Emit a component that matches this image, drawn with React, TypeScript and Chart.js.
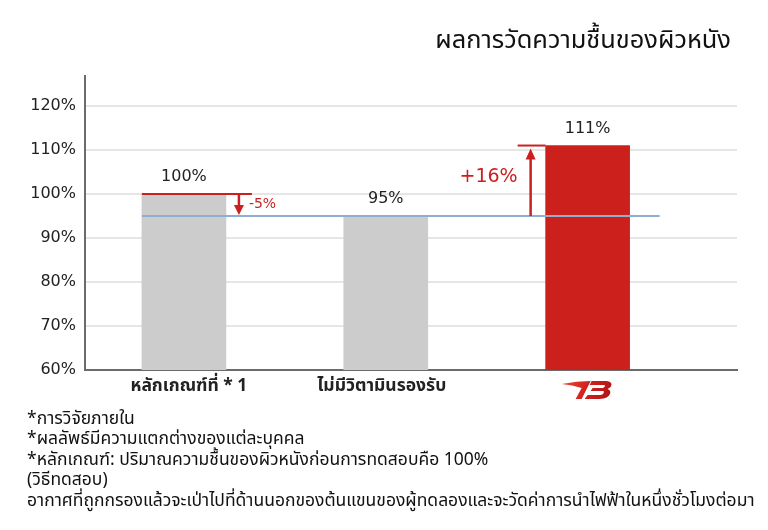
import React, { useEffect, useRef } from "react";
import { Chart, registerables } from "chart.js";

Chart.register(...registerables);

const title = "ผลการวัดความชื้นของผิวหนัง";
const categories = ["หลักเกณฑ์ที่ * 1", "ไม่มีวิตามินรองรับ", "LOGO"];
const positions = [1, 2, 3];
const values = [100, 95, 111];
const baseline = 95;
const diffLabels = ["-5%", "", "+16%"];
const barColors = ["#cccccc", "#cccccc", "#cc201d"];
const footnotes = [
  "*การวิจัยภายใน",
  "*ผลลัพธ์มีความแตกต่างของแต่ละบุคคล",
  "*หลักเกณฑ์: ปริมาณความชื้นของผิวหนังก่อนการทดสอบคือ 100%",
  "(วิธีทดสอบ)",
  "อากาศที่ถูกกรองแล้วจะเป่าไปที่ด้านนอกของต้นแขนของผู้ทดลองและจะวัดค่าการนำไฟฟ้าในหนึ่งชั่วโมงต่อมา",
];

const RED = "#cc1f1f";
const THAI = "'Noto Sans', 'Noto Sans Thai', Tahoma, sans-serif";

function drawLogo(ctx: CanvasRenderingContext2D, cx: number, top: number) {
  ctx.save();
  const g = ctx.createLinearGradient(cx - 25, top, cx + 25, top + 19);
  g.addColorStop(0, "#f04a3a");
  g.addColorStop(0.5, "#d0201d");
  g.addColorStop(1, "#b01515");
  ctx.fillStyle = g;
  // left swoosh
  ctx.beginPath();
  ctx.moveTo(cx - 25, top + 4);
  ctx.quadraticCurveTo(cx - 10, top + 1, cx + 4, top + 1);
  ctx.lineTo(cx + 1, top + 7);
  ctx.lineTo(cx - 5, top + 19);
  ctx.lineTo(cx - 11, top + 19);
  ctx.lineTo(cx - 5, top + 8);
  ctx.quadraticCurveTo(cx - 14, top + 5, cx - 25, top + 4);
  ctx.closePath();
  ctx.fill();
  // right "B"
  ctx.beginPath();
  ctx.moveTo(cx + 5, top + 1);
  ctx.lineTo(cx + 20, top + 1);
  ctx.quadraticCurveTo(cx + 27, top + 2, cx + 24, top + 7);
  ctx.lineTo(cx + 21, top + 9);
  ctx.quadraticCurveTo(cx + 26, top + 11, cx + 22, top + 16);
  ctx.quadraticCurveTo(cx + 19, top + 19, cx + 12, top + 19);
  ctx.lineTo(cx - 2, top + 19);
  ctx.lineTo(cx + 1, top + 15);
  ctx.lineTo(cx + 14, top + 15);
  ctx.quadraticCurveTo(cx + 18, top + 14, cx + 17, top + 11);
  ctx.lineTo(cx + 4, top + 11);
  ctx.lineTo(cx + 6, top + 8);
  ctx.lineTo(cx + 16, top + 8);
  ctx.quadraticCurveTo(cx + 19, top + 7, cx + 18, top + 5);
  ctx.lineTo(cx + 3, top + 5);
  ctx.closePath();
  ctx.fill();
  ctx.restore();
}

const annotations = {
  id: "annotations",
  afterDatasetsDraw(chart: any) {
    const ctx: CanvasRenderingContext2D = chart.ctx;
    const meta = chart.getDatasetMeta(0);
    const y = chart.scales.y;
    const yBase = y.getPixelForValue(baseline);
    const bars = meta.data;
    ctx.save();

    // value labels
    ctx.font = "16px 'DejaVu Sans', Verdana, sans-serif";
    ctx.fillStyle = "#222";
    ctx.textAlign = "center";
    ctx.textBaseline = "middle";
    bars.forEach((b: any, i: number) => {
      ctx.fillText(values[i] + "%", b.x, b.y - 17);
    });

    // baseline
    const first = bars[0];
    const last = bars[bars.length - 1];
    ctx.strokeStyle = "#8eafcf";
    ctx.lineWidth = 2;
    ctx.beginPath();
    ctx.moveTo(first.x - first.width / 2, yBase);
    ctx.lineTo(last.x + last.width / 2 + 30, yBase);
    ctx.stroke();

    // diffs
    bars.forEach((b: any, i: number) => {
      const lbl = diffLabels[i];
      if (!lbl) return;
      const yv = y.getPixelForValue(values[i]);
      const left = b.x - b.width / 2;
      const right = b.x + b.width / 2;
      ctx.strokeStyle = RED;
      ctx.fillStyle = RED;
      ctx.lineWidth = 2;
      if (i === 0) {
        ctx.beginPath();
        ctx.moveTo(left, yv);
        ctx.lineTo(right + 26, yv);
        ctx.stroke();
        const ax = right + 13;
        ctx.lineWidth = 2.5;
        ctx.beginPath();
        ctx.moveTo(ax, yv + 1);
        ctx.lineTo(ax, yBase - 9);
        ctx.stroke();
        ctx.beginPath();
        ctx.moveTo(ax - 5, yBase - 11);
        ctx.lineTo(ax + 5, yBase - 11);
        ctx.lineTo(ax, yBase - 1);
        ctx.closePath();
        ctx.fill();
        ctx.font = "14px 'DejaVu Sans', Verdana, sans-serif";
        ctx.textAlign = "left";
        ctx.textBaseline = "middle";
        ctx.fillText(lbl, right + 23, (yv + yBase) / 2 - 0.5);
      } else {
        ctx.beginPath();
        ctx.moveTo(left - 28, yv);
        ctx.lineTo(left, yv);
        ctx.stroke();
        const ax = left - 15;
        ctx.lineWidth = 2.5;
        ctx.beginPath();
        ctx.moveTo(ax, yBase);
        ctx.lineTo(ax, yv + 12);
        ctx.stroke();
        ctx.beginPath();
        ctx.moveTo(ax - 5, yv + 14);
        ctx.lineTo(ax + 5, yv + 14);
        ctx.lineTo(ax, yv + 3);
        ctx.closePath();
        ctx.fill();
        ctx.font = "19px 'DejaVu Sans', Verdana, sans-serif";
        ctx.textAlign = "right";
        ctx.textBaseline = "middle";
        ctx.fillText(lbl, left - 28, (yv + yBase) / 2 - 4);
      }
    });

    // category labels
    const area = chart.chartArea;
    bars.forEach((b: any, i: number) => {
      if (i === bars.length - 1) {
        drawLogo(ctx, b.x - 1, area.bottom + 10);
        return;
      }
      ctx.font = "bold 17.5px " + THAI;
      ctx.fillStyle = "#222";
      ctx.textAlign = "center";
      ctx.textBaseline = "middle";
      ctx.fillText(categories[i], b.x + (i === 0 ? 5 : -4), area.bottom + 16);
    });
    ctx.restore();
  },
};

export default function App() {
  const ref = useRef<HTMLCanvasElement>(null);
  useEffect(() => {
    if (!ref.current) return;
    const chart = new Chart(ref.current, {
      type: "bar",
      data: {
        datasets: [
          {
            data: positions.map((p, i) => ({ x: p, y: values[i] })),
            backgroundColor: barColors,
            barThickness: 84,
            borderWidth: 0,
          },
        ],
      },
      options: {
        responsive: false,
        animation: false,
        layout: { padding: { left: 0, top: 76, right: 31, bottom: 160 } },
        plugins: {
          legend: { display: false },
          tooltip: { enabled: false },
          title: { display: false },
        },
        scales: {
          x: {
            type: "linear",
            offset: false,
            min: 0.51,
            max: 3.74,
            ticks: { display: false },
            grid: { display: false, drawTicks: false, offset: false },
            border: { display: true, color: "#6b6b6b", width: 2 },
            afterFit: (s: any) => {
              s.height = 0;
            },
          },
          y: {
            min: 60,
            max: 126.8,
            ticks: {
              stepSize: 10,
              includeBounds: false,
              padding: 9,
              color: "#222",
              font: { family: "'DejaVu Sans', Verdana, sans-serif", size: 16 },
              callback: (v: any) => v + "%",
            },
            grid: { color: "#e6e6e6", lineWidth: 2, drawTicks: false },
            border: { display: true, color: "#6b6b6b", width: 2 },
            afterFit: (s: any) => {
              s.width = 85;
            },
          },
        },
      } as any,
      plugins: [annotations],
    });
    return () => chart.destroy();
  }, []);

  return (
    <div style={{ position: "absolute", left: 0, top: 0, width: 768, height: 530, background: "#fff" }}>
      <canvas ref={ref} width={768} height={530} style={{ position: "absolute", left: 0, top: 0 }} />
      <div
        style={{
          position: "absolute",
          right: 37,
          top: 21,
          fontFamily: THAI,
          fontSize: 25.4,
          lineHeight: "34px",
          color: "#111",
          whiteSpace: "nowrap",
        }}
      >
        {title}
      </div>
      <div
        style={{
          position: "absolute",
          left: 27,
          top: 407,
          fontFamily: THAI,
          fontSize: 17.5,
          lineHeight: "20.4px",
          color: "#111",
          whiteSpace: "nowrap",
        }}
      >
        {footnotes.map((f, i) => (
          <div key={i}>{f}</div>
        ))}
      </div>
    </div>
  );
}
